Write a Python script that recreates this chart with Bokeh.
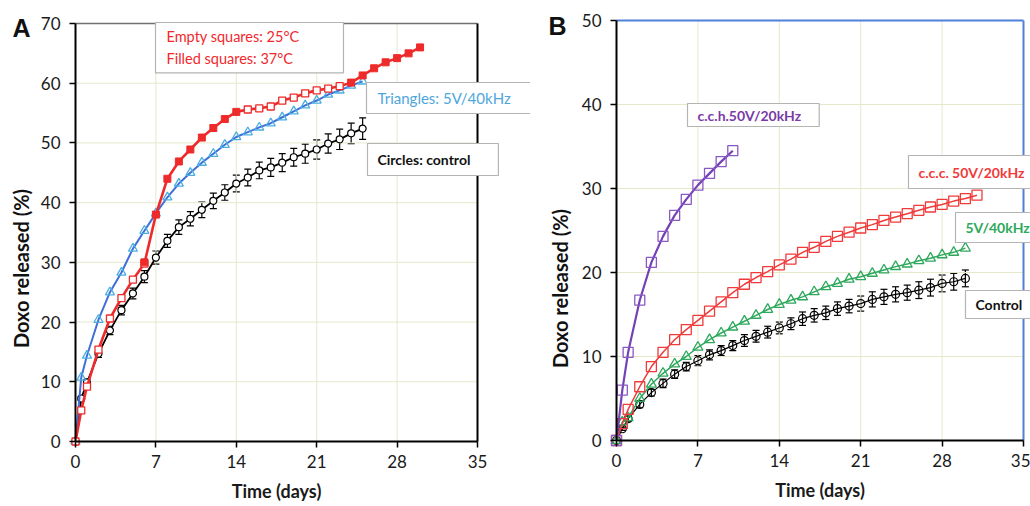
import math
from bokeh.plotting import figure
from bokeh.models import Range1d, FixedTicker, Label, Whisker, ColumnDataSource, TeeHead
from bokeh.layouts import row
from bokeh.embed import file_html
from bokeh.resources import INLINE

# ---------------- Panel A data ----------------
a_ctrl_days = [0, 0.5] + list(range(1, 26))
a_ctrl_vals = [0, 7.2, 9.9, 14.7, 18.6, 22.0, 24.8, 27.6, 30.8, 33.6, 35.9, 37.3, 38.8, 40.3, 41.7,
               43.2, 44.2, 45.4, 45.9, 46.7, 47.6, 48.2, 48.9, 49.9, 50.6, 51.6, 52.4]
a_ctrl_err = [0, 0.3, 0.5, 0.6, 0.7, 0.8, 0.9, 1.0, 1.1, 1.1, 1.2, 1.2, 1.3,
              1.3, 1.3, 1.4, 1.4, 1.4, 1.5, 1.5, 1.5, 1.6, 1.6, 1.6, 1.7, 1.7, 1.8]

a_tri_days = [0, 0.5] + list(range(1, 26))
a_tri_vals = [0, 10.7, 14.4, 20.4, 25.0, 28.3, 32.3, 35.3, 38.2, 40.9, 43.2, 45.0, 46.7, 48.2, 49.7,
              51.0, 51.8, 52.6, 53.3, 54.3, 55.3, 56.3, 57.1, 58.1, 58.8, 59.6, 60.3]

a_empty1_days = [0, 0.5, 1, 2, 3, 4, 5, 6]
a_empty1_vals = [0, 5.2, 9.2, 15.4, 20.6, 24.0, 27.1, 29.8]
a_filled1_days = [6, 7, 8, 9, 10, 11, 12, 13, 14]
a_filled1_vals = [30.0, 38.0, 44.0, 46.9, 48.9, 50.9, 52.5, 54.0, 55.2]
a_empty2_days = [15, 16, 17, 18, 19, 20, 21, 22, 23]
a_empty2_vals = [55.6, 55.8, 56.1, 57.1, 57.6, 58.3, 58.8, 59.1, 59.5]
a_filled2_days = [24, 25, 26, 27, 28, 29, 30]
a_filled2_vals = [60.1, 61.3, 62.5, 63.5, 64.2, 65.0, 66.0]

# ---------------- Panel B data ----------------
b_cch_days = [0, 0.5] + list(range(1, 11))
b_cch_vals = [0, 6.0, 10.5, 16.7, 21.2, 24.3, 26.8, 28.7, 30.4, 31.8, 33.2, 34.5]

b_ccc_days = [0, 0.5] + list(range(1, 32))
b_ccc_vals = [0, 2.0, 3.7, 6.4, 8.8, 10.5, 12.0, 13.2, 14.3, 15.4, 16.5, 17.6, 18.6,
              19.4, 20.1, 20.9, 21.6, 22.4, 23.0, 23.7, 24.3, 24.8, 25.3,
              25.7, 26.2, 26.6, 27.0, 27.4, 27.8, 28.1, 28.5, 28.8, 29.2]

b_5v_days = [0, 0.5] + list(range(1, 31))
b_5v_vals = [0, 2.2, 2.7, 5.0, 6.7, 8.0, 9.1, 10.0, 11.1, 12.0, 12.8, 13.5, 14.2,
             14.9, 15.6, 16.2, 16.7, 17.1, 17.7, 18.3, 18.7, 19.2, 19.5,
             19.9, 20.3, 20.7, 21.0, 21.4, 21.7, 22.1, 22.4, 22.9]

b_ctrl_days = [0, 0.5] + list(range(1, 31))
b_ctrl_vals = [0, 1.4, 2.6, 4.3, 5.7, 6.8, 7.9, 8.8, 9.5, 10.2, 10.7, 11.3, 11.9,
               12.4, 12.9, 13.4, 13.9, 14.5, 14.9, 15.2, 15.7, 16.0, 16.3,
               16.8, 17.1, 17.4, 17.6, 17.9, 18.2, 18.7, 18.9, 19.3]
b_ctrl_err = [0, 0.2, 0.3, 0.4, 0.4, 0.5, 0.5, 0.5, 0.6, 0.6, 0.6, 0.6, 0.7,
              0.7, 0.7, 0.7, 0.7, 0.8, 0.8, 0.8, 0.8, 0.8, 0.9,
              0.9, 0.9, 0.9, 0.9, 1.0, 1.0, 1.0, 1.0, 1.0]

x_ticks = [0, 7, 14, 21, 28, 35]
a_y_ticks = [0, 10, 20, 30, 40, 50, 60, 70]
b_y_ticks = [0, 10, 20, 30, 40, 50]

FONT = "Lato"
GRID = "#E4E9CC"
FIG_H = 506


class Geo:
    """pixel layout of a panel -> data ranges"""
    def __init__(self, fig_w, left, right, top, bottom, xmax, ymax):
        self.fig_w = fig_w
        sx = xmax / (right - left)
        sy = ymax / (bottom - top)
        self.x0 = -left * sx
        self.x1 = xmax + (fig_w - right) * sx
        self.y1 = ymax + top * sy
        self.y0 = -(FIG_H - bottom) * sy

    def x(self, px):
        return self.x0 + px * (self.x1 - self.x0) / self.fig_w

    def y(self, py):
        return self.y1 - py * (self.y1 - self.y0) / FIG_H


def make_fig(g, width, xmax, ymax, yticks):
    p = figure(width=width, height=FIG_H, output_backend="svg", toolbar_location=None,
               x_range=Range1d(g.x0, g.x1), y_range=Range1d(g.y0, g.y1), min_border=0)
    p.outline_line_color = None
    p.xgrid.visible = False
    p.ygrid.visible = False
    p.xaxis.ticker = FixedTicker(ticks=x_ticks)
    p.yaxis.ticker = FixedTicker(ticks=yticks)
    p.xaxis.fixed_location = 0
    p.yaxis.fixed_location = 0
    p.xaxis.bounds = (0, xmax)
    p.yaxis.bounds = (0, ymax)
    for ax in (p.xaxis, p.yaxis):
        ax.axis_line_color = "black"
        ax.axis_line_width = 2
        ax.major_tick_line_color = "black"
        ax.major_tick_line_width = 1.5
        ax.major_tick_out = 6
        ax.major_tick_in = 0
        ax.minor_tick_line_color = None
        ax.major_label_text_font = FONT
        ax.major_label_text_font_size = "17px"
        ax.major_label_text_color = "#1a1a1a"
    p.xaxis.major_label_standoff = 7
    p.yaxis.major_label_standoff = 9
    p.xaxis.axis_label = "Time (days)"
    p.xaxis.axis_label_text_font = FONT
    p.xaxis.axis_label_text_font_style = "bold"
    p.xaxis.axis_label_text_font_size = "18px"
    p.xaxis.axis_label_text_color = "#1a1a1a"
    p.xaxis.axis_label_standoff = 9
    # grid lines inside the plot area only
    gx = x_ticks[1:-1]
    p.segment(x0=gx, y0=[0] * len(gx), x1=gx, y1=[ymax] * len(gx), line_color=GRID, line_width=1)
    gy = yticks[1:-1]
    p.segment(x0=[0] * len(gy), y0=gy, x1=[xmax] * len(gy), y1=gy, line_color=GRID, line_width=1)
    p.background_fill_color = "white"
    p.border_fill_color = "white"
    return p


def box_label(p, x, y, text, color, size, pad, bold=False, lh=1.3):
    lab = Label(x=x, y=y, text=text, anchor="top_left",
                text_font=FONT, text_font_size=size,
                text_color=color, text_font_style="bold" if bold else "normal",
                text_line_height=lh,
                background_fill_color="white", border_line_color="#B4B4B4",
                border_line_width=1.2, padding=pad)
    p.add_layout(lab)


def plain_label(p, x, y, text, size, font=FONT, angle=0.0):
    p.add_layout(Label(x=x, y=y, text=text, angle=angle, text_align="center",
                       text_baseline="middle", text_font=font, text_font_size=size,
                       text_font_style="bold", text_color="#111111"))


# ---------------- Panel A ----------------
gA = Geo(530, 75, 477, 23, 441, 35, 70)
pA = make_fig(gA, 530, 35, 70, a_y_ticks)
pA.segment(x0=[0], y0=[70], x1=[35], y1=[70], line_color="#707070", line_width=1.5)
pA.segment(x0=[35], y0=[0], x1=[35], y1=[70], line_color="black", line_width=2)

srcA = ColumnDataSource(dict(x=a_ctrl_days, y=a_ctrl_vals,
                             lo=[v - e for v, e in zip(a_ctrl_vals, a_ctrl_err)],
                             hi=[v + e for v, e in zip(a_ctrl_vals, a_ctrl_err)]))
pA.add_layout(Whisker(base="x", upper="hi", lower="lo", source=srcA, dimension="height",
                      line_color="black", line_width=1.2,
                      upper_head=TeeHead(size=7, line_color="black", line_width=1.2),
                      lower_head=TeeHead(size=7, line_color="black", line_width=1.2)))
pA.line("x", "y", source=srcA, line_color="black", line_width=1.8)
pA.scatter("x", "y", source=srcA, marker="circle", size=7, fill_color="white",
           line_color="black", line_width=1.2)

pA.line(a_tri_days, a_tri_vals, line_color="#3F6FD8", line_width=2)
pA.scatter(a_tri_days, a_tri_vals, marker="triangle", size=9, fill_alpha=0.0,
           line_color="#4AAEE3", line_width=1.3)

red_days = a_empty1_days + a_filled1_days[1:] + a_empty2_days + a_filled2_days
red_vals = a_empty1_vals + a_filled1_vals[1:] + a_empty2_vals + a_filled2_vals
pA.line(red_days, red_vals, line_color="#EE2A2A", line_width=2.6)
pA.scatter(a_empty1_days + a_empty2_days, a_empty1_vals + a_empty2_vals, marker="square",
           size=7, fill_color="white", line_color="#EE2A2A", line_width=1.3)
pA.scatter(a_filled1_days + a_filled2_days, a_filled1_vals + a_filled2_vals, marker="square",
           size=7, fill_color="#EE2A2A", line_color="#EE2A2A", line_width=1)

box_label(pA, gA.x(155), gA.y(22), "Empty squares: 25°C\nFilled squares: 37°C", "#F0282D",
          "14.5px", (11, 44, 5, 6), lh=1.32)
box_label(pA, gA.x(366), gA.y(82), "Triangles:  5V/40kHz", "#4EA6DC", "15px", (11, 20, 6, 7))
box_label(pA, gA.x(367), gA.y(143), "Circles: control", "#111111", "14px", (10, 28, 7, 8), bold=True)
plain_label(pA, gA.x(21), gA.y(27), "A", "25px", font="Liberation Sans")
plain_label(pA, gA.x(20), gA.y(268), "Doxo released (%)", "20px", angle=math.pi / 2)

# ---------------- Panel B ----------------
gB = Geo(500, 86, 493, 20, 440, 35, 50)
pB = make_fig(gB, 500, 35, 50, b_y_ticks)
pB.segment(x0=[0], y0=[50], x1=[35], y1=[50], line_color="#5080D8", line_width=2)
pB.segment(x0=[35], y0=[0], x1=[35], y1=[50], line_color="#5080D8", line_width=2)

srcB = ColumnDataSource(dict(x=b_ctrl_days, y=b_ctrl_vals,
                             lo=[v - e for v, e in zip(b_ctrl_vals, b_ctrl_err)],
                             hi=[v + e for v, e in zip(b_ctrl_vals, b_ctrl_err)]))
pB.add_layout(Whisker(base="x", upper="hi", lower="lo", source=srcB, dimension="height",
                      line_color="black", line_width=1.2,
                      upper_head=TeeHead(size=7, line_color="black", line_width=1.2),
                      lower_head=TeeHead(size=7, line_color="black", line_width=1.2)))
pB.line("x", "y", source=srcB, line_color="black", line_width=1.2)
pB.scatter("x", "y", source=srcB, marker="circle", size=8, fill_alpha=0,
           line_color="black", line_width=1.2)

pB.line(b_5v_days, b_5v_vals, line_color="#2EA85C", line_width=1.5)
pB.scatter(b_5v_days, b_5v_vals, marker="triangle", size=10, fill_alpha=0,
           line_color="#2EA85C", line_width=1.3)

pB.line(b_ccc_days, b_ccc_vals, line_color="#F03A3A", line_width=1.5)
pB.scatter(b_ccc_days, b_ccc_vals, marker="square", size=10, fill_alpha=0,
           line_color="#F03A3A", line_width=1.3)

pB.line(b_cch_days, b_cch_vals, line_color="#7442B4", line_width=2.2)
pB.scatter(b_cch_days, b_cch_vals, marker="square", size=10, fill_alpha=0,
           line_color="#8A58C4", line_width=1.3)

OFF_B = 530
box_label(pB, gB.x(687 - OFF_B), gB.y(103), "c.c.h.50V/20kHz", "#7A3AA8", "14px", (10, 18, 3, 3), bold=True)
box_label(pB, gB.x(908 - OFF_B), gB.y(155), "c.c.c. 50V/20kHz", "#F03A3A", "14px", (10, 20, 8, 8), bold=True)
box_label(pB, gB.x(955 - OFF_B), gB.y(212), "5V/40kHz", "#2EA85C", "14px", (10, 15, 6, 7), bold=True)
box_label(pB, gB.x(965 - OFF_B), gB.y(290), "Control", "#111111", "14px", (10, 20, 5, 6), bold=True)
plain_label(pB, gB.x(557 - OFF_B), gB.y(25), "B", "25px", font="Liberation Sans")
plain_label(pB, gB.x(559 - OFF_B), gB.y(288), "Doxo released (%)", "20px", angle=math.pi / 2)

layout = row(pA, pB)
open("out.html", "w").write(file_html(layout, INLINE))
